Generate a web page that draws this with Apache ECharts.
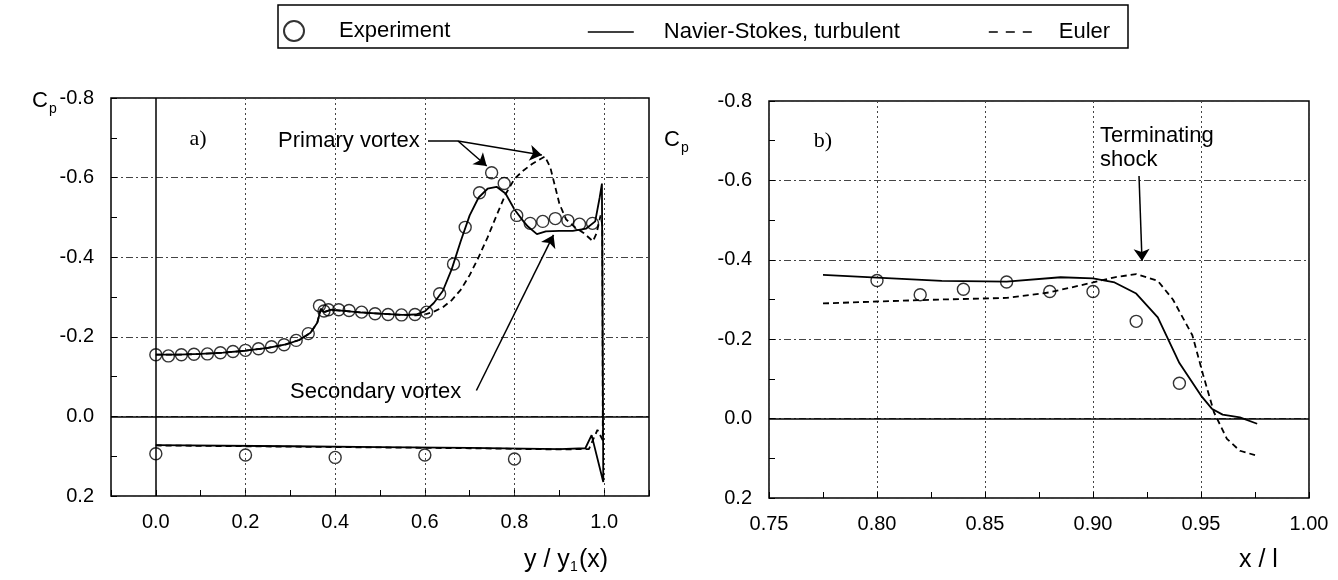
<!DOCTYPE html>
<html>
<head>
<meta charset="utf-8">
<script src="https://cdn.jsdelivr.net/npm/echarts@6/dist/echarts.min.js"></script>
<style>
html, body { margin: 0; padding: 0; background: #fff; }
#chart { width: 1338px; height: 580px; }
</style>
</head>
<body>
<div id="chart"></div>
<script>
// ---- panel a) spanwise Cp, y / y1(x) ----
const expUpX  = [0.0, 0.028, 0.057, 0.085, 0.115, 0.144, 0.172, 0.2, 0.229, 0.258, 0.286, 0.313, 0.34, 0.365, 0.375, 0.385, 0.408, 0.431, 0.459, 0.489, 0.518, 0.548, 0.578, 0.604, 0.633, 0.664, 0.69, 0.722, 0.749, 0.777, 0.805, 0.835, 0.863, 0.891, 0.919, 0.945, 0.974]
const expUpCp = [-0.155, -0.152, -0.155, -0.156, -0.157, -0.160, -0.163, -0.166, -0.170, -0.175, -0.180, -0.191, -0.208, -0.278, -0.265, -0.268, -0.268, -0.266, -0.262, -0.258, -0.256, -0.255, -0.256, -0.262, -0.308, -0.383, -0.475, -0.562, -0.612, -0.585, -0.505, -0.485, -0.490, -0.497, -0.492, -0.483, -0.485]
const expLoX  = [0.0, 0.2, 0.4, 0.6, 0.8]
const expLoCp = [0.094, 0.097, 0.103, 0.097, 0.107]

const nsAX  = [0.0, 0.05, 0.10, 0.15, 0.20, 0.25, 0.29, 0.32, 0.345, 0.36, 0.368, 0.375, 0.39, 0.42, 0.46, 0.50, 0.55, 0.58, 0.60, 0.62, 0.64, 0.66, 0.68, 0.70, 0.72, 0.74, 0.76, 0.78, 0.80, 0.82, 0.83, 0.85, 0.87, 0.90, 0.93, 0.96, 0.98, 0.99, 0.995, 0.998, 0.972, 0.958, 0.9, 0.7, 0.5, 0.3, 0.0]
const nsACp = [-0.155, -0.155, -0.157, -0.160, -0.165, -0.172, -0.181, -0.192, -0.21, -0.235, -0.27, -0.262, -0.268, -0.265, -0.261, -0.258, -0.255, -0.256, -0.264, -0.285, -0.315, -0.37, -0.44, -0.505, -0.55, -0.572, -0.577, -0.56, -0.52, -0.49, -0.477, -0.458, -0.465, -0.466, -0.466, -0.472, -0.49, -0.55, -0.585, 0.165, 0.047, 0.08, 0.082, 0.079, 0.077, 0.075, 0.072]

const euAX  = [0.0, 0.05, 0.10, 0.15, 0.20, 0.25, 0.29, 0.32, 0.345, 0.36, 0.368, 0.375, 0.39, 0.42, 0.46, 0.50, 0.55, 0.58, 0.60, 0.62, 0.64, 0.66, 0.68, 0.70, 0.72, 0.74, 0.76, 0.78, 0.80, 0.82, 0.84, 0.86, 0.868, 0.88, 0.89, 0.90, 0.915, 0.935, 0.955, 0.975, 0.983, 0.992, 0.996, 0.997, 0.985, 0.966, 0.9, 0.7, 0.5, 0.3, 0.0]
const euACp = [-0.155, -0.155, -0.157, -0.160, -0.165, -0.172, -0.181, -0.192, -0.21, -0.235, -0.27, -0.262, -0.268, -0.265, -0.261, -0.258, -0.255, -0.254, -0.256, -0.263, -0.274, -0.292, -0.318, -0.355, -0.40, -0.45, -0.505, -0.558, -0.597, -0.618, -0.635, -0.648, -0.653, -0.625, -0.58, -0.535, -0.495, -0.475, -0.46, -0.44, -0.46, -0.505, -0.48, 0.06, 0.034, 0.082, 0.083, 0.08, 0.078, 0.076, 0.073]

// ---- panel b) chordwise Cp, x / l ----
const expBX  = [0.80, 0.82, 0.84, 0.86, 0.88, 0.90, 0.92, 0.94]
const expBCp = [-0.348, -0.312, -0.326, -0.344, -0.32, -0.32, -0.245, -0.089]
const nsBX   = [0.775, 0.80, 0.83, 0.86, 0.885, 0.90, 0.91, 0.92, 0.93, 0.94, 0.95, 0.955, 0.96, 0.968, 0.976]
const nsBCp  = [-0.362, -0.355, -0.347, -0.345, -0.356, -0.353, -0.343, -0.315, -0.255, -0.14, -0.058, -0.025, -0.01, -0.003, 0.013]
const euBX   = [0.775, 0.80, 0.83, 0.86, 0.88, 0.90, 0.91, 0.92, 0.93, 0.937, 0.946, 0.951, 0.956, 0.962, 0.968, 0.975]
const euBCp  = [-0.29, -0.295, -0.30, -0.304, -0.318, -0.343, -0.356, -0.364, -0.347, -0.30, -0.21, -0.11, -0.016, 0.051, 0.081, 0.092]

const font = 'Liberation Sans'
const zip = (xs, ys) => xs.map((x, i) => [x, ys[i]])

const dotted = { color: '#444', width: 1, type: [2, 3] }
const dashDot = { color: '#444', width: 1, type: [7, 3, 2, 3] }
const plain = { silent: true, symbol: ['none', 'none'], label: { show: false }, animation: false }
const arrows = { silent: true, symbol: ['none', 'arrow'], symbolSize: 12, label: { show: false }, animation: false,
    lineStyle: { color: '#000', width: 1.5, type: 'solid' } }

function yAxisFor(gridIndex) {
    return {
        type: 'value', gridIndex, inverse: true, min: -0.8, max: 0.2, interval: 0.2,
        axisLine: { show: false, onZero: false },
        axisTick: { inside: true, length: 6, lineStyle: { color: '#000' } },
        minorTick: { show: true, splitNumber: 2, length: 6, lineStyle: { color: '#000' } },
        splitLine: { show: true, lineStyle: dashDot },
        axisLabel: { margin: 17, fontSize: 20, fontFamily: font, color: '#000',
            formatter: v => (Math.round(v * 10) / 10).toFixed(1) }
    }
}

const circle = { symbol: 'circle', symbolSize: 12,
    itemStyle: { color: 'rgba(0,0,0,0)', borderColor: '#000', borderWidth: 1.4 } }
const solid = { symbol: 'none', itemStyle: { color: '#000' }, lineStyle: { color: '#000', width: 1.8 } }
const dashed = { symbol: 'none', itemStyle: { color: '#000' }, lineStyle: { color: '#000', width: 1.8, type: [6, 4] } }

const legendText = { fontSize: 22, fontFamily: font, color: '#000' }

const texts = [
    { x: 32, y: 101, text: 'C', size: 22 },
    { x: 49, y: 109, text: 'p', size: 14 },
    { x: 664, y: 140, text: 'C', size: 22 },
    { x: 681, y: 148, text: 'p', size: 14 },
    { x: 278, y: 141, text: 'Primary vortex', size: 22 },
    { x: 290, y: 392, text: 'Secondary vortex', size: 22 },
    { x: 1100, y: 136, text: 'Terminating', size: 22 },
    { x: 1100, y: 160, text: 'shock', size: 22 },
    { x: 524, y: 560, text: 'y / y', size: 25 },
    { x: 570, y: 567, text: '1', size: 14 },
    { x: 579, y: 560, text: '(x)', size: 25 },
    { x: 1239, y: 560, text: 'x / l', size: 25 }
]

const graphic = [
    { type: 'rect', shape: { x: 278, y: 5, width: 850, height: 43 },
      style: { fill: 'none', stroke: '#000', lineWidth: 1.5 } },
    { type: 'text', x: 198, y: 139, style: { text: 'a)', font: '22px "Liberation Serif"', fill: '#000', align: 'center', verticalAlign: 'middle' } },
    { type: 'text', x: 823, y: 141, style: { text: 'b)', font: '22px "Liberation Serif"', fill: '#000', align: 'center', verticalAlign: 'middle' } }
].concat(texts.map(t => ({
    type: 'text', x: t.x, y: t.y,
    style: { text: t.text, font: t.size + 'px "' + font + '"', fill: '#000', align: 'left', verticalAlign: 'middle' }
})))

const option = {
    animation: false,
    backgroundColor: '#fff',
    legend: [
        { data: ['Experiment'], left: 283, top: 20, padding: 0, itemWidth: 20, itemHeight: 20, selectedMode: false,
          textStyle: { ...legendText, padding: [0, 0, 0, 30] } },
        { data: ['Navier-Stokes, turbulent'], left: 587, top: 21, padding: 0, itemWidth: 46, itemHeight: 18, selectedMode: false,
          itemStyle: { opacity: 0 }, lineStyle: { width: 1.6 },
          textStyle: { ...legendText, padding: [0, 0, 0, 25] } },
        { data: ['Euler'], left: 988, top: 21, padding: 0, itemWidth: 44, itemHeight: 18, selectedMode: false,
          itemStyle: { opacity: 0 }, lineStyle: { type: [9, 8], width: 1.6 },
          textStyle: { ...legendText, padding: [0, 0, 0, 21] } }
    ],
    grid: [
        { left: 111, top: 98, width: 538, height: 398, show: true, borderColor: '#000', borderWidth: 1.5 },
        { left: 769, top: 101, width: 540, height: 397, show: true, borderColor: '#000', borderWidth: 1.5 }
    ],
    xAxis: [
        {
            type: 'value', gridIndex: 0, min: -0.1, max: 1.1, interval: 0.1,
            axisLine: { show: false, onZero: false },
            axisTick: { inside: true, length: 6, lineStyle: { color: '#000' } },
            splitLine: { show: false },
            axisLabel: { margin: 16, fontSize: 20, fontFamily: font, color: '#000',
                formatter: v => {
                    const r = Math.round(v * 10)
                    return (r >= 0 && r <= 10 && r % 2 === 0) ? (r / 10).toFixed(1) : ''
                } }
        },
        {
            type: 'value', gridIndex: 1, min: 0.75, max: 1.0, interval: 0.05,
            axisLine: { show: false, onZero: false },
            axisTick: { inside: true, length: 6, lineStyle: { color: '#000' } },
            minorTick: { show: true, splitNumber: 2, length: 6, lineStyle: { color: '#000' } },
            splitLine: { show: true, lineStyle: dotted },
            axisLabel: { margin: 16, fontSize: 20, fontFamily: font, color: '#000',
                formatter: v => v.toFixed(2) }
        }
    ],
    yAxis: [yAxisFor(0), yAxisFor(1)],
    graphic,
    series: [
        { name: 'Experiment', type: 'scatter', xAxisIndex: 0, yAxisIndex: 0, ...circle, data: zip(expUpX, expUpCp),
          markLine: { ...plain, data: [
              { xAxis: 0.2, lineStyle: dotted }, { xAxis: 0.4, lineStyle: dotted },
              { xAxis: 0.6, lineStyle: dotted }, { xAxis: 0.8, lineStyle: dotted },
              { xAxis: 1.0, lineStyle: dotted },
              { xAxis: 0.0, lineStyle: { color: '#000', width: 1.5, type: 'solid' } },
              { yAxis: 0.0, lineStyle: { color: '#000', width: 1.5, type: 'solid' } },
              [{ coord: [0.607, -0.692] }, { coord: [0.674, -0.692], lineStyle: { color: '#000', width: 1.5, type: 'solid' } }]
          ] } },
        { name: 'Experiment', type: 'scatter', xAxisIndex: 0, yAxisIndex: 0, ...circle, data: zip(expLoX, expLoCp) },
        { name: 'Navier-Stokes, turbulent', type: 'line', xAxisIndex: 0, yAxisIndex: 0, ...solid, data: zip(nsAX, nsACp) },
        { name: 'Euler', type: 'line', xAxisIndex: 0, yAxisIndex: 0, ...dashed, data: zip(euAX, euACp),
          markLine: { ...arrows, data: [
              [{ coord: [0.674, -0.692] }, { coord: [0.738, -0.629] }],
              [{ coord: [0.674, -0.692] }, { coord: [0.861, -0.657] }],
              [{ coord: [0.715, -0.065] }, { coord: [0.887, -0.456] }]
          ] } },
        { name: 'Experiment', type: 'scatter', xAxisIndex: 1, yAxisIndex: 1, ...circle, data: zip(expBX, expBCp),
          markLine: { ...plain, data: [
              { yAxis: 0.0, lineStyle: { color: '#000', width: 1.5, type: 'solid' } }
          ] } },
        { name: 'Navier-Stokes, turbulent', type: 'line', xAxisIndex: 1, yAxisIndex: 1, ...solid, data: zip(nsBX, nsBCp) },
        { name: 'Euler', type: 'line', xAxisIndex: 1, yAxisIndex: 1, ...dashed, data: zip(euBX, euBCp),
          markLine: { ...arrows, data: [
              [{ coord: [0.9213, -0.611] }, { coord: [0.9227, -0.397] }]
          ] } }
    ]
}

const myChart = echarts.init(document.getElementById('chart'))
myChart.setOption(option)
</script>
</body>
</html>
